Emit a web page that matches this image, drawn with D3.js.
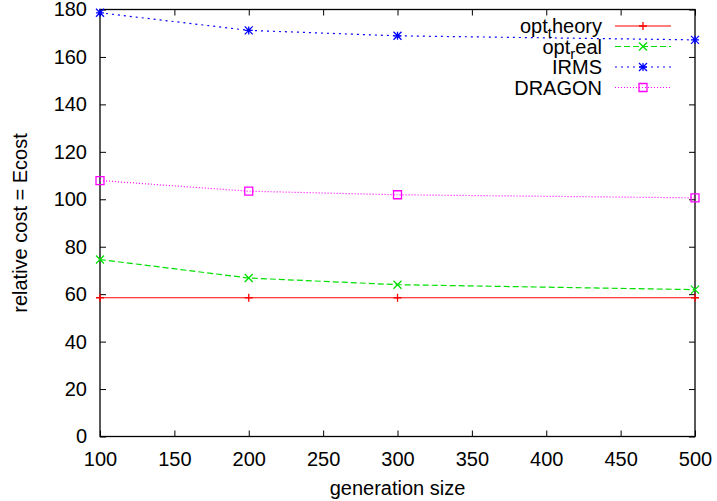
<!DOCTYPE html>
<html>
<head>
<meta charset="utf-8">
<script src="https://cdn.jsdelivr.net/npm/d3@7"></script>
<style>
  body { margin: 0; background: #fff; }
  text { font-family: "Liberation Sans", Arial, sans-serif; fill: #000; }
</style>
</head>
<body>
<div id="chart"></div>
<script>
// generation sizes on x
const sizes = [100, 200, 300, 500]
// relative cost per method
const optTheory = [58.5, 58.5, 58.5, 58.5]
const optReal = [74.6, 66.8, 64.0, 61.9]
const irms = [178.6, 171.2, 168.9, 167.2]
const dragon = [107.9, 103.4, 101.9, 100.6]

const xTicks = [100, 150, 200, 250, 300, 350, 400, 450, 500]
const yTicks = [0, 20, 40, 60, 80, 100, 120, 140, 160, 180]

const series = [
  { name: 'opt', sub: 't', rest: 'heory', values: optTheory, color: '#ff0000', dash: null, mark: 'plus' },
  { name: 'opt', sub: 'r', rest: 'eal', values: optReal, color: '#00e000', dash: '6,3', mark: 'cross' },
  { name: 'IRMS', values: irms, color: '#0000ff', dash: '2,4', mark: 'star' },
  { name: 'DRAGON', values: dragon, color: '#ff00ff', dash: '1,2', mark: 'square' }
]

const W = 717
const H = 501
const margin = { top: 9.5, right: 22, bottom: 64.5, left: 100 }

const svg = d3.select('#chart')
  .append('svg')
  .attr('width', W)
  .attr('height', H)

const x = d3.scaleLinear().domain([100, 500]).range([margin.left, W - margin.right])
const y = d3.scaleLinear().domain([0, 180]).range([H - margin.bottom, margin.top])

const tickLen = 6

// ticks inward on all four sides
svg.append('g')
  .attr('transform', 'translate(0,' + y(0) + ')')
  .call(d3.axisBottom(x).tickValues(xTicks).tickSize(-tickLen).tickPadding(tickLen + 9))
  .call(g => g.select('.domain').remove())
  .call(g => g.selectAll('text').style('font-size', '20px'))
svg.append('g')
  .attr('transform', 'translate(0,' + y(180) + ')')
  .call(d3.axisTop(x).tickValues(xTicks).tickSize(-tickLen).tickFormat(''))
  .call(g => g.select('.domain').remove())
svg.append('g')
  .attr('transform', 'translate(' + x(100) + ',0)')
  .call(d3.axisLeft(y).tickValues(yTicks).tickSize(-tickLen).tickPadding(tickLen + 7))
  .call(g => g.select('.domain').remove())
  .call(g => g.selectAll('text').style('font-size', '20px'))
svg.append('g')
  .attr('transform', 'translate(' + x(500) + ',0)')
  .call(d3.axisRight(y).tickValues(yTicks).tickSize(-tickLen).tickFormat(''))
  .call(g => g.select('.domain').remove())

svg.append('rect')
  .attr('x', x(100))
  .attr('y', y(180))
  .attr('width', x(500) - x(100))
  .attr('height', y(0) - y(180))
  .attr('fill', 'none')
  .attr('stroke', '#000')
  .attr('stroke-width', 1.3)

// labels
svg.append('text')
  .attr('x', (x(100) + x(500)) / 2)
  .attr('y', 495)
  .attr('text-anchor', 'middle')
  .style('font-size', '20px')
  .text('generation size')

svg.append('text')
  .attr('transform', 'translate(27,' + (y(0) + y(180)) / 2 + ') rotate(-90)')
  .attr('text-anchor', 'middle')
  .style('font-size', '20px')
  .text('relative cost = Ecost')

function marker (g, type, color, cx, cy) {
  const r = 4
  let p
  if (type === 'plus') p = `M${cx - r},${cy}H${cx + r}M${cx},${cy - r}V${cy + r}`
  else if (type === 'cross') p = `M${cx - r},${cy - r}L${cx + r},${cy + r}M${cx - r},${cy + r}L${cx + r},${cy - r}`
  else if (type === 'star') p = `M${cx - r},${cy}H${cx + r}M${cx},${cy - r}V${cy + r}M${cx - r},${cy - r}L${cx + r},${cy + r}M${cx - r},${cy + r}L${cx + r},${cy - r}`
  else p = `M${cx - r},${cy - r}H${cx + r}V${cy + r}H${cx - r}Z`
  g.append('path').attr('d', p).attr('fill', 'none').attr('stroke', color).attr('stroke-width', 1.3)
}

const line = d3.line().x(d => x(d[0])).y(d => y(d[1]))

series.forEach(s => {
  const pts = sizes.map((v, i) => [v, s.values[i]])
  svg.append('path')
    .datum(pts)
    .attr('d', line)
    .attr('fill', 'none')
    .attr('stroke', s.color)
    .attr('stroke-width', 1.2)
    .attr('stroke-dasharray', s.dash)
  const g = svg.append('g')
  pts.forEach(p => marker(g, s.mark, s.color, x(p[0]), y(p[1])))
})

// legend
const legX = 602
const legY0 = 26
const legStep = 20.5
series.forEach((s, i) => {
  const ly = legY0 + i * legStep
  const t = svg.append('text')
    .attr('x', legX)
    .attr('y', ly + 7)
    .attr('text-anchor', 'end')
    .style('font-size', '20px')
  if (s.sub) {
    t.append('tspan').text(s.name)
    t.append('tspan').attr('dy', 5).style('font-size', '15px').text(s.sub)
    t.append('tspan').attr('dy', -5).text(s.rest)
  } else {
    t.text(s.name)
  }
  svg.append('line')
    .attr('x1', 615).attr('x2', 671)
    .attr('y1', ly).attr('y2', ly)
    .attr('stroke', s.color)
    .attr('stroke-width', 1.2)
    .attr('stroke-dasharray', s.dash)
  marker(svg.append('g'), s.mark, s.color, 643, ly)
})
</script>
</body>
</html>
